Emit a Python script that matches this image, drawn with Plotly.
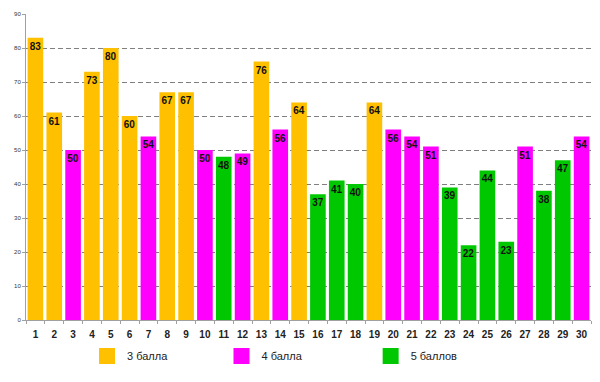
import plotly.graph_objects as go

categories = [str(i) for i in range(1, 31)]
values = [83, 61, 50, 73, 80, 60, 54, 67, 67, 50, 48, 49, 76, 56, 64,
          37, 41, 40, 64, 56, 54, 51, 39, 22, 44, 23, 51, 38, 47, 54]
groups = ["3", "3", "4", "3", "3", "3", "4", "3", "3", "4", "5", "4", "3", "4", "3",
          "5", "5", "5", "3", "4", "4", "4", "5", "5", "5", "5", "4", "5", "5", "4"]
series_names = {"3": "3 балла", "4": "4 балла", "5": "5 баллов"}
series_colors = {"3": "#FFC000", "4": "#FF00FF", "5": "#00C800"}
y_ticks = list(range(0, 100, 10))

legend_ids = {"3": "legend", "4": "legend2", "5": "legend3"}
legend_x = {"3": 0.108, "4": 0.346, "5": 0.61}

fig = go.Figure()
for g in ["3", "4", "5"]:
    xs = [c for c, gg in zip(categories, groups) if gg == g]
    ys = [v for v, gg in zip(values, groups) if gg == g]
    fig.add_trace(go.Bar(
        x=xs, y=ys, name=series_names[g], legendgroup=g, showlegend=False,
        marker=dict(color=series_colors[g], line=dict(width=0)),
        text=[str(v) for v in ys], textposition="inside", insidetextanchor="end",
        textangle=0, constraintext="none",
        insidetextfont=dict(family="Liberation Sans", size=10, color="#111111", weight="bold"),
        cliponaxis=False,
    ))
# legend entries with larger square swatches (no visible marks)
for g in ["3", "4", "5"]:
    fig.add_trace(go.Scatter(
        x=[None], y=[None], mode="markers", name=series_names[g], legendgroup=g,
        legend=legend_ids[g],
        marker=dict(symbol="square", size=16, color=series_colors[g], line=dict(width=0)),
        showlegend=True,
    ))

legend_common = dict(orientation="h", y=-0.07, xanchor="left", yanchor="top",
                     bgcolor="rgba(0,0,0,0)",
                     font=dict(family="Liberation Sans", size=11, color="#222222"))

fig.update_layout(
    width=592, height=374,
    margin=dict(l=18, r=9, t=3, b=62),
    barmode="overlay", bargap=0.17,
    plot_bgcolor="white", paper_bgcolor="white",
    showlegend=True,
    legend=dict(x=legend_x["3"], **legend_common),
    legend2=dict(x=legend_x["4"], **legend_common),
    legend3=dict(x=legend_x["5"], **legend_common),
    xaxis=dict(type="category", categoryorder="array", categoryarray=categories,
               showgrid=False, showline=True, linecolor="#A0A0A0", linewidth=1,
               ticks="outside", tickson="boundaries", ticklen=3, tickcolor="#A0A0A0",
               tickangle=0, ticklabelstandoff=5,
               tickfont=dict(family="Liberation Sans", size=10, color="#222222", weight="bold"),
               range=[-0.5, 29.5]),
    yaxis=dict(range=[0, 90], tickvals=y_ticks, showgrid=True, gridcolor="#7F7F7F",
               griddash="5px,3px", gridwidth=1, zeroline=False,
               showline=True, linecolor="#A0A0A0", linewidth=1,
               ticks="outside", ticklen=3, tickcolor="#A0A0A0",
               tickfont=dict(family="Liberation Sans", size=6, color="#333333")),
)

fig.write_html("out.html")
